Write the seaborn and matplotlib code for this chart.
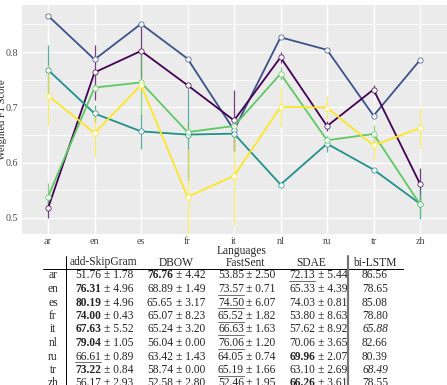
import matplotlib
matplotlib.use("Agg")
import matplotlib.pyplot as plt
from matplotlib.lines import Line2D
import numpy as np
import pandas as pd
import seaborn as sns

#%% Data (scores in %)
languages = ['ar', 'en', 'es', 'fr', 'it', 'nl', 'ru', 'tr', 'zh']
methods = ['add-SkipGram', 'DBOW', 'FastSent', 'SDAE', 'bi-LSTM']

skipgram_mean = [51.76, 76.31, 80.19, 74.00, 67.63, 79.04, 66.61, 73.22, 56.17]
skipgram_std = [1.78, 4.96, 4.96, 0.43, 5.52, 1.05, 0.89, 0.84, 2.93]
dbow_mean = [76.76, 68.89, 65.65, 65.07, 65.24, 56.04, 63.42, 58.74, 52.58]
dbow_std = [4.42, 1.49, 3.17, 8.23, 3.20, 0.00, 1.43, 0.00, 2.80]
fastsent_mean = [53.85, 73.57, 74.50, 65.52, 66.63, 76.06, 64.05, 65.19, 52.46]
fastsent_std = [2.50, 0.71, 6.07, 1.82, 1.63, 1.20, 0.74, 1.66, 1.95]
sdae_mean = [72.13, 65.33, 74.03, 53.80, 57.62, 70.06, 69.96, 63.10, 66.26]
sdae_std = [5.44, 4.39, 0.81, 8.63, 8.92, 3.65, 2.07, 2.69, 3.61]
bilstm_mean = [86.56, 78.65, 85.08, 78.80, 65.88, 82.66, 80.39, 68.49, 78.55]

# table formatting
bold_cells = [('DBOW', 'ar'), ('add-SkipGram', 'en'), ('add-SkipGram', 'es'),
              ('add-SkipGram', 'fr'), ('add-SkipGram', 'it'), ('add-SkipGram', 'nl'),
              ('SDAE', 'ru'), ('add-SkipGram', 'tr'), ('SDAE', 'zh')]
underline_cells = [('SDAE', 'ar'), ('FastSent', 'en'), ('FastSent', 'es'),
                   ('FastSent', 'fr'), ('FastSent', 'it'), ('FastSent', 'nl'),
                   ('add-SkipGram', 'ru'), ('FastSent', 'tr')]
italic_cells = [('bi-LSTM', 'it'), ('bi-LSTM', 'tr')]

means = {'add-SkipGram': skipgram_mean, 'DBOW': dbow_mean, 'FastSent': fastsent_mean,
         'SDAE': sdae_mean, 'bi-LSTM': bilstm_mean}
stds = {'add-SkipGram': skipgram_std, 'DBOW': dbow_std, 'FastSent': fastsent_std,
        'SDAE': sdae_std}

palette = {'add-SkipGram': '#440154', 'bi-LSTM': '#3b528b', 'DBOW': '#21918c',
           'FastSent': '#5ec962', 'SDAE': '#fde725'}
draw_order = ['bi-LSTM', 'add-SkipGram', 'DBOW', 'FastSent', 'SDAE']

rows = []
for m in draw_order:
    for i, lang in enumerate(languages):
        rows.append({'method': m, 'pos': i, 'score': means[m][i] / 100})
df = pd.DataFrame(rows)

#%% Figure
sns.set_theme(style="darkgrid", rc={'axes.facecolor': '#EBEBEB', 'grid.color': 'white'})
plt.rcParams['font.family'] = ['Liberation Serif', 'DejaVu Serif']

W, H = 447, 385
fig = plt.figure(figsize=(W / 100, H / 100), dpi=100)
ax = fig.add_axes([22 / W, 1 - 234 / H, 425 / W, 229 / H])

# error bars
for m in ['add-SkipGram', 'DBOW', 'FastSent', 'SDAE']:
    mu = np.array(means[m]) / 100
    sd = np.array(stds[m]) / 100
    ax.vlines(np.arange(len(languages)), mu - sd, mu + sd, color=palette[m],
              linewidth=0.9, alpha=0.75, zorder=2)

sns.lineplot(data=df, x='pos', y='score', hue='method', hue_order=draw_order,
             palette=palette, marker='o', markersize=3.8, markerfacecolor='white',
             linewidth=1.3, legend=False, ax=ax, zorder=3)
for line in ax.lines:
    line.set_markeredgecolor(line.get_color())
    line.set_markeredgewidth(0.5)

ax.set_xlim(-0.56, 8.58)
ax.set_ylim(0.471, 0.885)
ax.set_xticks(range(len(languages)))
ax.set_xticklabels(languages)
ax.set_yticks([0.5, 0.6, 0.7, 0.8])
ax.set_yticklabels(['0.5', '0.6', '0.7', '0.8'])
ax.set_yticks([0.55, 0.65, 0.75, 0.85], minor=True)
ax.grid(which='major', color='white', linewidth=1.0)
ax.grid(which='minor', axis='y', color='white', linewidth=0.5)
ax.tick_params(axis='both', which='major', length=2.2, width=0.6, color='#333333',
               labelsize=7.3, labelcolor='#4D4D4D', pad=0.5)
ax.tick_params(axis='x', which='major', pad=0)
ax.tick_params(axis='both', which='minor', length=0)
for s in ax.spines.values():
    s.set_visible(False)
ax.set_xlabel('')
ax.set_ylabel('')
fig.text(2.8 / W, 1 - 120 / H, 'Weighted F1 Score', rotation=90, ha='center',
         va='center', fontsize=7.6)

#%% Table overlay in pixel coordinates
tx = fig.add_axes([0, 0, 1, 1])
tx.set_xlim(0, W)
tx.set_ylim(H, 0)
tx.axis('off')
tx.patch.set_visible(False)

fs = 8.3
tx.text(242, 251, 'Languages', ha='center', va='center', fontsize=8.3)

col_split = {'add-SkipGram': 101, 'DBOW': 173, 'FastSent': 244, 'SDAE': 315}
col_center = {'add-SkipGram': 103, 'DBOW': 176, 'FastSent': 245, 'SDAE': 311,
              'bi-LSTM': 375}
header_y = 262.5
row_y0, row_dy = 275.5, 13.5

for m in methods:
    tx.text(col_center[m], header_y, m, ha='center', va='center', fontsize=fs)

tx.add_line(Line2D([43, 403], [268.5, 268.5], color='black', linewidth=0.7))
tx.add_line(Line2D([66, 66], [256, H], color='black', linewidth=0.7))
tx.add_line(Line2D([348, 348], [256, H], color='#777777', linewidth=1.6))

under_texts = []
for r, lang in enumerate(languages):
    y = row_y0 + r * row_dy
    tx.text(53, y, lang, ha='center', va='center', fontsize=fs)
    for m in methods[:4]:
        weight = 'bold' if (m, lang) in bold_cells else 'normal'
        t = tx.text(col_split[m], y, f'{means[m][r]:.2f}', ha='right', va='center',
                    fontsize=fs, fontweight=weight)
        tx.text(col_split[m] + 2.5, y, f'\u00b1 {stds[m][r]:.2f}', ha='left',
                va='center', fontsize=fs)
        if (m, lang) in underline_cells:
            under_texts.append((t, y))
    style = 'italic' if ('bi-LSTM', lang) in italic_cells else 'normal'
    tx.text(col_center['bi-LSTM'], y, f'{bilstm_mean[r]:.2f}', ha='center',
            va='center', fontsize=fs, style=style)

fig.canvas.draw()
inv = tx.transData.inverted()
for t, y in under_texts:
    bb = t.get_window_extent()
    x0, _ = inv.transform((bb.x0, bb.y0))
    x1, _ = inv.transform((bb.x1, bb.y0))
    tx.add_line(Line2D([x0, x1], [y + 5.5, y + 5.5], color='#555555', linewidth=0.6))

fig.savefig('out.png', dpi=100)
